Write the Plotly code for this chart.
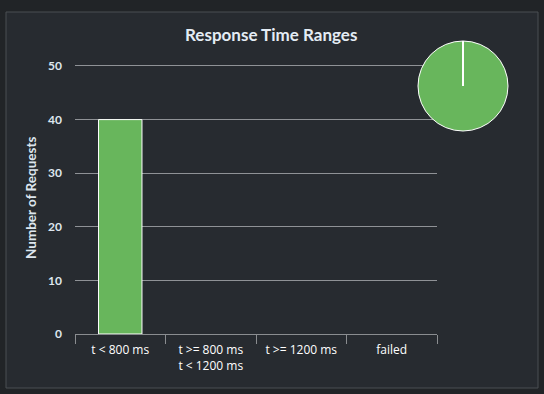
import plotly.graph_objects as go

categories = ["t < 800 ms", "t >= 800 ms<br>t < 1200 ms", "t >= 1200 ms", "failed"]
counts = [40, 0, 0, 0]
y_ticks = [0, 10, 20, 30, 40, 50]

W, H = 544, 394
green = "#68b65c"
panel = "#272b30"
outer = "#212427"

# plot area in pixels (0 at y=334, 50 at y=66)
ymax = 50.4
px0, px1, py1 = 75, 437, 334
py0 = py1 - (py1 - 66) * ymax / 50
xdom = [px0 / W, px1 / W]
ydom = [(H - py1) / H, (H - py0) / H]

# pie domain
pcx, pcy, pr = 463, 86, 45
pie_x = [(pcx - pr) / W, (pcx + pr) / W]
pie_y = [(H - (pcy + pr)) / H, (H - (pcy - pr)) / H]

fig = go.Figure()
fig.add_trace(go.Bar(
    x=categories, y=counts, width=0.48,
    marker=dict(color=green,
                line=dict(color="white", width=[1 if c > 0 else 0 for c in counts])),
    showlegend=False,
))
fig.add_trace(go.Pie(
    labels=categories, values=counts, sort=False, direction="clockwise",
    domain=dict(x=pie_x, y=pie_y), textinfo="none", showlegend=False,
    marker=dict(colors=[green, "#f6b26b", "#e06666", "#cc0000"], line=dict(color="white", width=1)),
))

fig.update_layout(
    width=W, height=H,
    margin=dict(l=0, r=0, t=0, b=0),
    paper_bgcolor=outer, plot_bgcolor=panel,
    font=dict(family="Lato, 'Open Sans', sans-serif", color="#e8eef4"),
    shapes=[
        dict(type="rect", xref="paper", yref="paper", x0=6 / W, x1=538 / W,
             y0=(H - 388) / H, y1=(H - 12) / H, fillcolor=panel,
             line=dict(color="#4a4e53", width=1), layer="below"),
        dict(type="line", xref="paper", yref="paper", x0=pcx / W, x1=pcx / W,
             y0=(H - pcy) / H, y1=(H - (pcy - pr)) / H,
             line=dict(color="white", width=2), layer="above"),
    ],
    annotations=[
        dict(text="<b>Response Time Ranges</b>", xref="paper", yref="paper",
             x=271 / W, y=(H - 35) / H, xanchor="center", yanchor="middle",
             showarrow=False, font=dict(size=17, color="#e4ecf4", family="Lato, sans-serif")),
        dict(text="<b>Number of Requests</b>", xref="paper", yref="paper",
             x=31 / W, y=(H - 198) / H, xanchor="center", yanchor="middle", textangle=-90,
             showarrow=False, font=dict(size=13.5, color="#dde6ee")),
    ],
    xaxis=dict(domain=xdom, showgrid=False, showline=True, linecolor="#8a8d90", linewidth=1,
               ticks="outside", tickson="boundaries", ticklen=9, tickcolor="#8a8d90",
               ticklabelstandoff=5,
               tickfont=dict(size=12, color="#ffffff", family="'Open Sans', sans-serif"),
               automargin=False, fixedrange=True),
    yaxis=dict(domain=ydom, range=[0, ymax], tickvals=y_ticks,
               ticktext=[f"<b>{v}</b>" for v in y_ticks],
               showgrid=True, gridcolor="#8f9296", gridwidth=1, zeroline=False,
               showline=False, ticks="", ticklabelstandoff=12,
               tickfont=dict(size=12, color="#dde6ee"), automargin=False, fixedrange=True),
)

fig.write_html("out.html", config={"displayModeBar": False},
               post_script="document.body.style.margin='0';document.body.style.background='%s';" % outer)
